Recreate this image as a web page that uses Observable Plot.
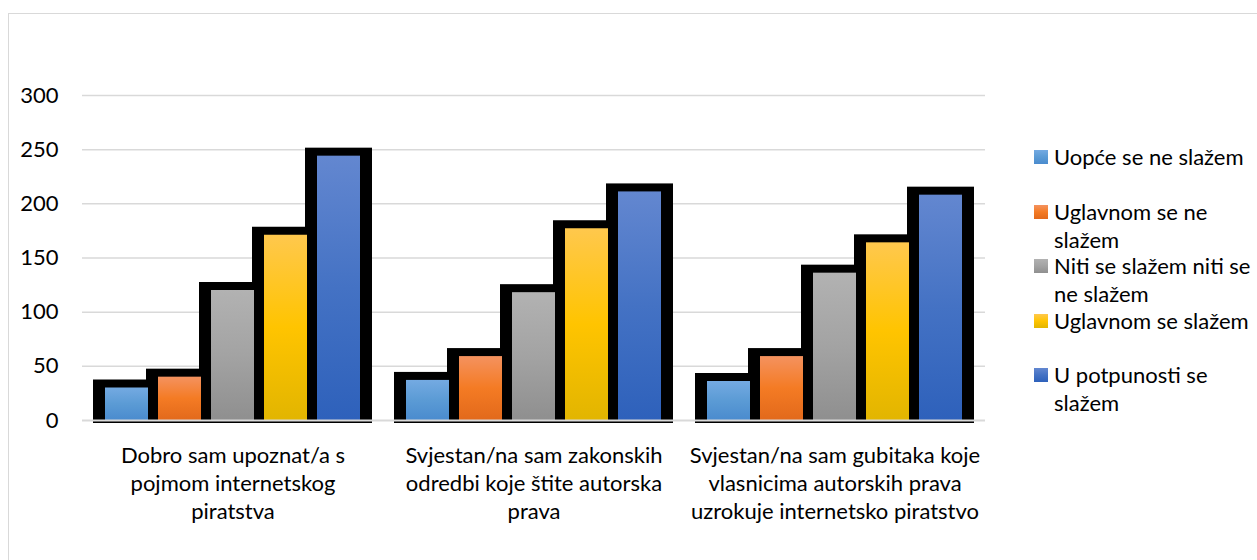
<!DOCTYPE html>
<html>
<head>
<meta charset="utf-8">
<script src="https://cdn.jsdelivr.net/npm/d3@7"></script>
<script src="https://cdn.jsdelivr.net/npm/@observablehq/plot@0.6"></script>
<style>
  body { margin: 0; background: #fff; }
  #wrap { position: relative; width: 1257px; height: 560px; overflow: hidden; font-family: Lato, sans-serif; color: #000; }
  #frame { position: absolute; left: 8px; top: 13px; width: 1400px; height: 700px; border-left: 1px solid #d9d9d9; border-top: 1px solid #d9d9d9; }
  #chart { position: absolute; left: 0; top: 0; }
  .leg { position: absolute; left: 1034px; font-size: 22px; line-height: 28px; white-space: pre-line; }
  .leg .sw { position: absolute; left: 0; top: 7px; width: 14px; height: 14px; }
  .leg .tx { position: absolute; left: 20px; top: 0; width: 230px; }
</style>
</head>
<body>
<div id="wrap">
  <div id="frame"></div>
  <div id="chart"></div>
</div>
<script>
// ---- data ----
const groups = [
  "Dobro sam upoznat/a s\npojmom internetskog\npiratstva",
  "Svjestan/na sam zakonskih\nodredbi koje štite autorska\nprava",
  "Svjestan/na sam gubitaka koje\nvlasnicima autorskih prava\nuzrokuje internetsko piratstvo"
];
const series = [
  "Uopće se ne slažem",
  "Uglavnom se ne slažem",
  "Niti se slažem niti se ne slažem",
  "Uglavnom se slažem",
  "U potpunosti se slažem"
];
const legendLabels = [
  "Uopće se ne slažem",
  "Uglavnom se ne\nslažem",
  "Niti se slažem niti se\nne slažem",
  "Uglavnom se slažem",
  "U potpunosti se\nslažem"
];
const valuesGroup1 = [30, 40, 120, 171, 244];
const valuesGroup2 = [37, 59, 118, 177, 211];
const valuesGroup3 = [36, 59, 136, 164, 208];
const yTicks = [0, 50, 100, 150, 200, 250, 300];
// gradient stops per series: top, middle, bottom
const gradTop = ["#74aae2", "#f4925f", "#b2b2b2", "#ffc84d", "#6387d0"];
const gradMid = ["#5b9bd5", "#f47b24", "#a3a3a3", "#ffc400", "#4472c4"];
const gradBot = ["#4a8bce", "#e2691b", "#8f8f8f", "#e2b500", "#2e61bb"];

// ---- build table ----
const allValues = [valuesGroup1, valuesGroup2, valuesGroup3];
const data = groups.flatMap((g, gi) => series.map((s, si) => ({
  group: g, series: s, value: allValues[gi][si], fill: `url(#grad${si})`
})));

const chart = Plot.plot({
  width: 1000,
  height: 560,
  marginLeft: 82,
  marginRight: 15,
  marginTop: 95,
  marginBottom: 140,
  style: { fontFamily: "Lato, sans-serif", fontSize: "22px", color: "#000", background: "transparent", overflow: "visible" },
  fx: { domain: groups, padding: 0, label: null, axis: null },
  x: { domain: series, paddingInner: 0.181, paddingOuter: 0.39, axis: null },
  y: { domain: [0, 300], label: null, axis: null },
  color: { type: "identity" },
  marks: [
    Plot.ruleY(yTicks.filter(t => t > 0), { stroke: "#d9d9d9", strokeWidth: 1.5 }),
    Plot.barY(data, { fx: "group", x: "series", y: "value", fill: "#000",
      insetLeft: -12, insetRight: -12, insetTop: -8, insetBottom: -3 }),
    Plot.barY(data, { fx: "group", x: "series", y: "value", fill: "fill" }),
    Plot.ruleY([0], { stroke: "#d9d9d9", strokeWidth: 2 }),
    Plot.axisY({ ticks: yTicks, tickSize: 0, tickPadding: 24, fontSize: 22, label: null }),
    Plot.axisFx({ anchor: "bottom", tickSize: 0, tickPadding: 23, fontSize: 22, lineHeight: 1.27, label: null })
  ]
});

// gradients
const defs = d3.select(chart).insert("defs", ":first-child");
series.forEach((s, i) => {
  const lg = defs.append("linearGradient").attr("id", `grad${i}`)
    .attr("x1", 0).attr("y1", 0).attr("x2", 0).attr("y2", 1);
  lg.append("stop").attr("offset", "0%").attr("stop-color", gradTop[i]);
  lg.append("stop").attr("offset", "50%").attr("stop-color", gradMid[i]);
  lg.append("stop").attr("offset", "100%").attr("stop-color", gradBot[i]);
});
document.getElementById("chart").appendChild(chart);

// legend
const leg = d3.select("#wrap").selectAll("div.leg").data(legendLabels).join("div")
  .attr("class", "leg")
  .style("top", (d, i) => (157 + i * 54.6 - 14) + "px");
leg.append("div").attr("class", "sw")
  .style("background", (d, i) => `linear-gradient(${gradTop[i]}, ${gradMid[i]}, ${gradBot[i]})`);
leg.append("div").attr("class", "tx").text(d => d);
</script>
</body>
</html>
